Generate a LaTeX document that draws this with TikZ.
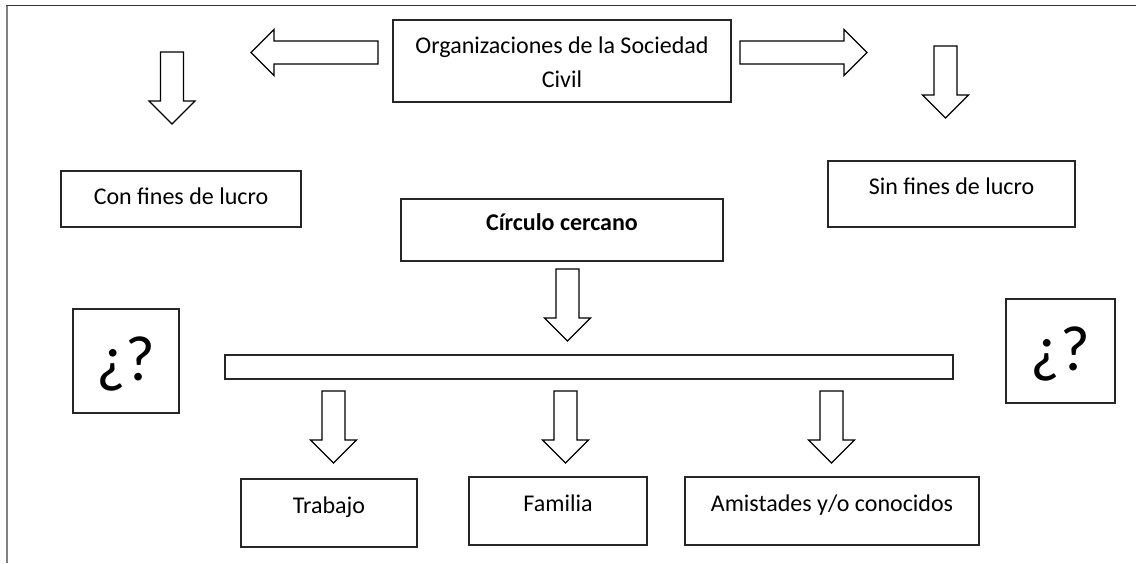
\documentclass[tikz,border=0pt]{standalone}
\usepackage{fontspec}
\setmainfont{Carlito}
\usetikzlibrary{positioning}
\newcommand{\flecha}[1]{\draw[fill=white] (-11.5,0) -- (11.5,0) -- (11.5,#1-23) -- (23,#1-23) -- (0,#1) -- (-23,#1-23) -- (-11.5,#1-23) -- cycle;}

\begin{document}
\begin{tikzpicture}[x=0.5pt, y=-0.5pt, line width=0.6pt,
	caja/.style={draw=black!85, fill=white, inner sep=0pt, text height=0pt, text depth=0pt, font=\fontsize{12}{17}\selectfont},
	duda/.style={caja, minimum width=53pt, minimum height=52pt, text height=19pt, font=\fontsize{32}{38}\selectfont}]

	\useasboundingbox (0,0) rectangle (1136,563);
	\draw[black!80] (6,5.5) -- (1136,5.5);
	\draw[gray, line width=1pt] (6.5,5.5) -- (6.5,563);

	\node[caja, minimum width=169pt, minimum height=41pt, align=center, text height=26pt] (org) at (562,61) {Organizaciones de la Sociedad\\Civil};
	\node[caja, minimum width=120pt, minimum height=28pt, text height=5pt] (con) at (181,199) {Con fines de lucro};
	\node[caja, minimum width=123.5pt, minimum height=33pt] (sin) at (951.5,194) {Sin fines de lucro};
	\node[caja, minimum width=161pt, minimum height=31pt, font=\fontsize{12}{17}\selectfont\bfseries] (circulo) at (562,230) {Círculo cercano};
	\node[caja, minimum width=364pt, minimum height=12pt] (barra) at (589,367) {};
	\node[caja, minimum width=88pt, minimum height=34pt] (trabajo) at (329,513) {Trabajo};
	\node[caja, minimum width=89pt, minimum height=34pt] (familia) at (558,511) {Familia};
	\node[caja, minimum width=147pt, minimum height=34pt] (amistades) at (832,511) {Amistades y/o conocidos};
	\node[duda] (dudaizq) at (126,361) {¿?};
	\node[duda, minimum width=54.5pt] (dudader) at (1060.5,351) {¿?};

	\begin{scope}[shift={(378,52.5)}, rotate=-90]
		\flecha{127}
	\end{scope}

	\begin{scope}[shift={(740,52.5)}, rotate=90]
		\flecha{127}
	\end{scope}

	\begin{scope}[shift={(172,52)}]
		\flecha{72}
	\end{scope}

	\begin{scope}[shift={(945.5,46)}]
		\flecha{72}
	\end{scope}

	\begin{scope}[shift={(567.5,269)}]
		\flecha{72}
	\end{scope}

	\begin{scope}[shift={(333.5,391)}]
		\flecha{72}
	\end{scope}

	\begin{scope}[shift={(565.5,391)}]
		\flecha{72}
	\end{scope}

	\begin{scope}[shift={(831.5,391)}]
		\flecha{72}
	\end{scope}

\end{tikzpicture}
\end{document}
